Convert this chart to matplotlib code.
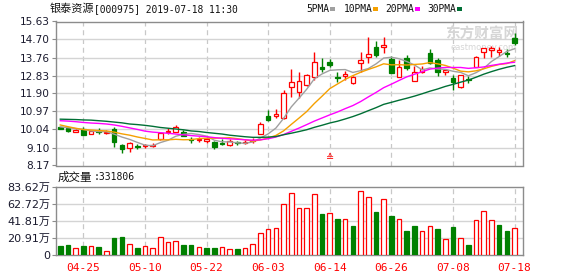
import numpy as np
import pandas as pd
import matplotlib
matplotlib.use("Agg")
import matplotlib.pyplot as plt
from matplotlib.patches import Rectangle

# ---------------- data ----------------
dates = ["04-22", "04-23", "04-24", "04-25", "04-26", "04-29", "04-30",
         "05-06", "05-07", "05-08", "05-09", "05-10",
         "05-13", "05-14", "05-15", "05-16", "05-17",
         "05-20", "05-21", "05-22", "05-23", "05-24",
         "05-27", "05-28", "05-29", "05-30", "05-31",
         "06-03", "06-04", "06-05", "06-06",
         "06-10", "06-11", "06-12", "06-13", "06-14",
         "06-17", "06-18", "06-19", "06-20", "06-21",
         "06-24", "06-25", "06-26", "06-27", "06-28",
         "07-01", "07-02", "07-03", "07-04", "07-05",
         "07-08", "07-09", "07-10", "07-11", "07-12",
         "07-15", "07-16", "07-17", "07-18"]

open_ = [10.15, 10.12, 9.93, 10.05, 9.81, 9.97, 9.86, 10.05, 9.23, 9.06,
         9.20, 9.16, 9.20, 9.53, 9.89, 9.92, 9.89, 9.53, 9.50, 9.45,
         9.40, 9.33, 9.23, 9.37, 9.35, 9.42, 9.80, 10.75, 10.75, 10.62,
         12.22, 12.00, 12.33, 12.74, 13.28, 13.52, 12.78, 12.82, 12.43, 13.47,
         13.78, 14.33, 14.33, 13.69, 12.77, 13.72, 12.56, 13.03, 13.98, 13.64,
         13.01, 12.69, 12.22, 12.66, 13.27, 14.03, 14.14, 14.06, 14.00, 14.76]
high = [10.18, 10.15, 10.08, 10.14, 9.98, 10.10, 10.00, 10.15, 9.28, 9.38,
        9.30, 9.28, 9.32, 9.92, 10.10, 10.27, 10.00, 9.63, 9.66, 9.63,
        9.45, 9.53, 9.52, 9.45, 9.48, 9.58, 10.44, 11.05, 11.08, 12.08,
        13.15, 13.03, 12.92, 14.07, 13.72, 13.70, 13.02, 13.06, 12.80, 14.05,
        14.84, 14.64, 14.84, 13.86, 13.64, 13.90, 13.33, 13.33, 14.19, 13.76,
        13.15, 12.86, 12.88, 12.81, 13.84, 14.26, 14.36, 14.33, 14.19, 15.05]
low = [10.05, 9.88, 9.90, 9.75, 9.78, 9.78, 9.82, 9.12, 8.83, 8.88,
       9.05, 9.10, 9.15, 9.50, 9.80, 9.88, 9.68, 9.35, 9.40, 9.33,
       9.04, 9.22, 9.20, 9.25, 9.30, 9.32, 9.78, 10.45, 10.62, 10.60,
       11.73, 11.65, 12.30, 12.60, 13.03, 13.28, 12.50, 12.60, 12.40, 13.03,
       13.50, 13.81, 13.98, 12.95, 12.75, 13.12, 12.54, 12.95, 13.45, 12.82,
       12.86, 12.08, 12.20, 12.46, 13.25, 13.72, 13.81, 13.86, 13.77, 14.41]
close = [10.08, 9.97, 10.03, 9.77, 9.95, 9.92, 9.93, 9.40, 9.02, 9.35,
         9.14, 9.21, 9.25, 9.84, 9.95, 10.18, 9.70, 9.47, 9.56, 9.53,
         9.14, 9.28, 9.45, 9.32, 9.40, 9.50, 10.30, 10.52, 10.82, 11.91,
         12.48, 12.55, 12.84, 13.52, 13.18, 13.40, 12.70, 12.90, 12.77, 13.64,
         13.95, 13.90, 14.42, 12.98, 13.26, 13.22, 13.01, 13.16, 13.47, 13.00,
         13.12, 12.51, 12.86, 12.60, 13.81, 14.24, 14.28, 14.14, 13.94, 14.50]
# volume in 万 (10k) lots
volume = [11.0, 12.2, 8.2, 11.0, 10.6, 9.8, 4.5, 20.8, 22.0, 13.1,
          8.6, 10.6, 8.2, 21.6, 15.9, 16.7, 12.2, 12.2, 9.4, 8.6,
          8.6, 9.4, 6.9, 7.3, 8.2, 13.1, 26.9, 31.8, 32.6, 62.0,
          75.5, 57.1, 57.1, 74.3, 50.2, 51.0, 44.1, 43.7, 35.5, 77.9,
          70.6, 52.6, 68.2, 47.8, 43.7, 29.4, 35.5, 29.0, 35.1, 31.8,
          19.2, 34.3, 20.4, 12.2, 42.4, 53.5, 42.4, 36.7, 29.4, 33.18]

# moving-average values before each window is full
ma5_head = [10.17, 10.13, 10.08, 10.04]
ma10_head = [10.27, 10.18, 10.10, 10.03, 10.01, 9.98, 9.96, 9.90, 9.81]
ma20_head = [10.49, 10.47, 10.44, 10.40, 10.37, 10.35, 10.32, 10.27, 10.20, 10.12,
             10.04, 9.95, 9.90, 9.87, 9.84, 9.80, 9.76, 9.72, 9.69]
ma30_head = [10.57, 10.56, 10.55, 10.53, 10.52, 10.49, 10.46, 10.42, 10.38, 10.32,
             10.29, 10.25, 10.20, 10.14, 10.10, 10.06, 10.02, 9.96, 9.93, 9.88,
             9.84, 9.80, 9.74, 9.70, 9.66, 9.63, 9.63, 9.64, 9.67]

price_ticks = ["8.17", "9.10", "10.04", "10.97", "11.90", "12.83", "13.76", "14.70", "15.63"]
vol_ticks = ["0", "20.91", "41.81", "62.72", "83.62"]
date_ticks = ["04-25", "05-10", "05-22", "06-03", "06-14", "06-26", "07-08", "07-18"]
ma_names = ["5PMA", "10PMA", "20PMA", "30PMA"]

# ---------------- style ----------------
RED = "#ff0000"
GREEN = "#008000"
MA_COLORS = ["#a0a0a0", "#f5a000", "#ff00ff", "#006f35"]
FRAME = "#8c8c8c"
GRID = "#d4d4d4"

W, H = 578, 276
fig = plt.figure(figsize=(W / 100, H / 100), dpi=100)
fig.patch.set_facecolor("white")

def fx(px):
    return px / W

def fy(py):
    return 1 - py / H

ax_p = fig.add_axes([fx(55.5), fy(165.5), (522.5 - 55.5) / W, (165.5 - 21.5) / H])
ax_v = fig.add_axes([fx(55.5), fy(255), (522.5 - 55.5) / W, (255 - 186.7) / H])

n = len(close)
x = np.arange(n)
o = np.array(open_)
c = np.array(close)
hi = np.array(high)
lo = np.array(low)
v = np.array(volume)

cs = pd.Series(c)
mas = []
for win, head in zip([5, 10, 20, 30], [ma5_head, ma10_head, ma20_head, ma30_head]):
    m = cs.rolling(win).mean().to_numpy()
    m[:len(head)] = head
    mas.append(m)

date_idx = [dates.index(d) for d in date_ticks]

for ax in (ax_p, ax_v):
    ax.set_xlim(-0.62, 60.03)
    for s in ax.spines.values():
        s.set_color(FRAME)
        s.set_linewidth(1.0)
    for i in date_idx:
        ax.axvline(i, color="#c8c8c8", lw=0.9, ls=(0, (4, 3)), zorder=0.5)

# ---- price panel ----
pt = [float(t) for t in price_ticks]
ax_p.set_ylim(pt[0], pt[-1])
ax_p.set_yticks(pt)
ax_p.set_yticklabels(price_ticks)
for t in pt[1:-1]:
    ax_p.axhline(t, color=GRID, lw=1.0, zorder=0.5)
ax_p.set_xticks([])
ax_p.tick_params(axis="y", direction="out", length=3, width=0.8, color=FRAME,
                 pad=1, labelsize=7.6, labelcolor="#1a1a2e")

up = c >= o
bb = np.minimum(o, c)
bh = np.abs(c - o)
ax_p.vlines(x[up], lo[up], hi[up], color=RED, lw=1.0, zorder=2)
ax_p.vlines(x[~up], lo[~up], hi[~up], color=GREEN, lw=1.0, zorder=2)
ax_p.bar(x[up], bh[up], bottom=bb[up], width=0.6, facecolor="white",
         edgecolor=RED, lw=0.9, zorder=3)
ax_p.bar(x[~up], bh[~up], bottom=bb[~up], width=0.6, facecolor=GREEN,
         edgecolor=GREEN, lw=0.9, zorder=3)

for m, col in zip(mas, MA_COLORS):
    ax_p.plot(x, m, color=col, lw=1.0, zorder=4)

# event marker
ax_p.text(35, 8.58, "≙", color=RED, fontsize=7, ha="center", va="center", zorder=5)

# watermark
ax_p.text(0.835, 0.915, "东方财富网", transform=ax_p.transAxes, fontsize=10.5,
          color="#d6d6d6", family=["Noto Sans CJK SC"], fontweight="bold",
          ha="left", va="center", zorder=1)
ax_p.text(0.845, 0.82, "eastmoney.com", transform=ax_p.transAxes, fontsize=6,
          color="#d6d6d6", ha="left", va="center", zorder=1)

# ---- volume panel ----
vt = [float(t) for t in vol_ticks]
ax_v.set_ylim(vt[0], vt[-1])
ax_v.set_yticks(vt)
ax_v.set_yticklabels([t if t == "0" else t + "万" for t in vol_ticks],
                     family=["DejaVu Sans", "Noto Sans CJK SC"])
for t in vt[1:-1]:
    ax_v.axhline(t, color=GRID, lw=1.0, zorder=0.5)
prev = np.concatenate([[o[0]], c[:-1]])
vup = c >= prev
ax_v.bar(x[vup], v[vup], width=0.6, facecolor="white", edgecolor=RED, lw=0.9, zorder=3)
ax_v.bar(x[~vup], v[~vup], width=0.6, facecolor=GREEN, edgecolor=GREEN, lw=0.9, zorder=3)
ax_v.tick_params(axis="y", direction="out", length=3, width=0.8, color=FRAME,
                 pad=1, labelsize=8, labelcolor="#1a1a2e")
ax_v.set_xticks(date_idx)
ax_v.set_xticklabels(date_ticks, family="DejaVu Sans Mono", fontsize=8, color=RED)
ax_v.tick_params(axis="x", length=0, pad=6)

# ---- header texts ----
fig.text(fx(50), fy(9), "银泰资源", family=["Noto Sans CJK SC"], fontsize=8,
         va="center", ha="left", color="#111111")
fig.text(fx(94), fy(9), "[000975] 2019-07-18 11:30", family=["DejaVu Sans Mono"],
         fontsize=6.9, va="center", ha="left", color="#111111")

leg_x = [306, 344, 385, 427]
sq_x = [330, 373, 415, 457]
for name, lx, sx, col in zip(ma_names, leg_x, sq_x, MA_COLORS):
    fig.text(fx(lx), fy(9), name, family=["DejaVu Sans Mono"], fontsize=6.9,
             va="center", ha="left", color="#111111")
    fig.add_artist(Rectangle((fx(sx), fy(11)), 5 / W, 4 / H,
                             transform=fig.transFigure, facecolor=col,
                             edgecolor="none"))

fig.text(fx(58), fy(177.5), "成交量", family=["Noto Sans CJK SC"], fontsize=8.3,
         va="center", ha="left", color="#111111")
fig.text(fx(94), fy(177.5), ":331806", family=["DejaVu Sans Mono"], fontsize=7,
         va="center", ha="left", color="#111111")

fig.savefig("out.png", dpi=100, facecolor="white")
